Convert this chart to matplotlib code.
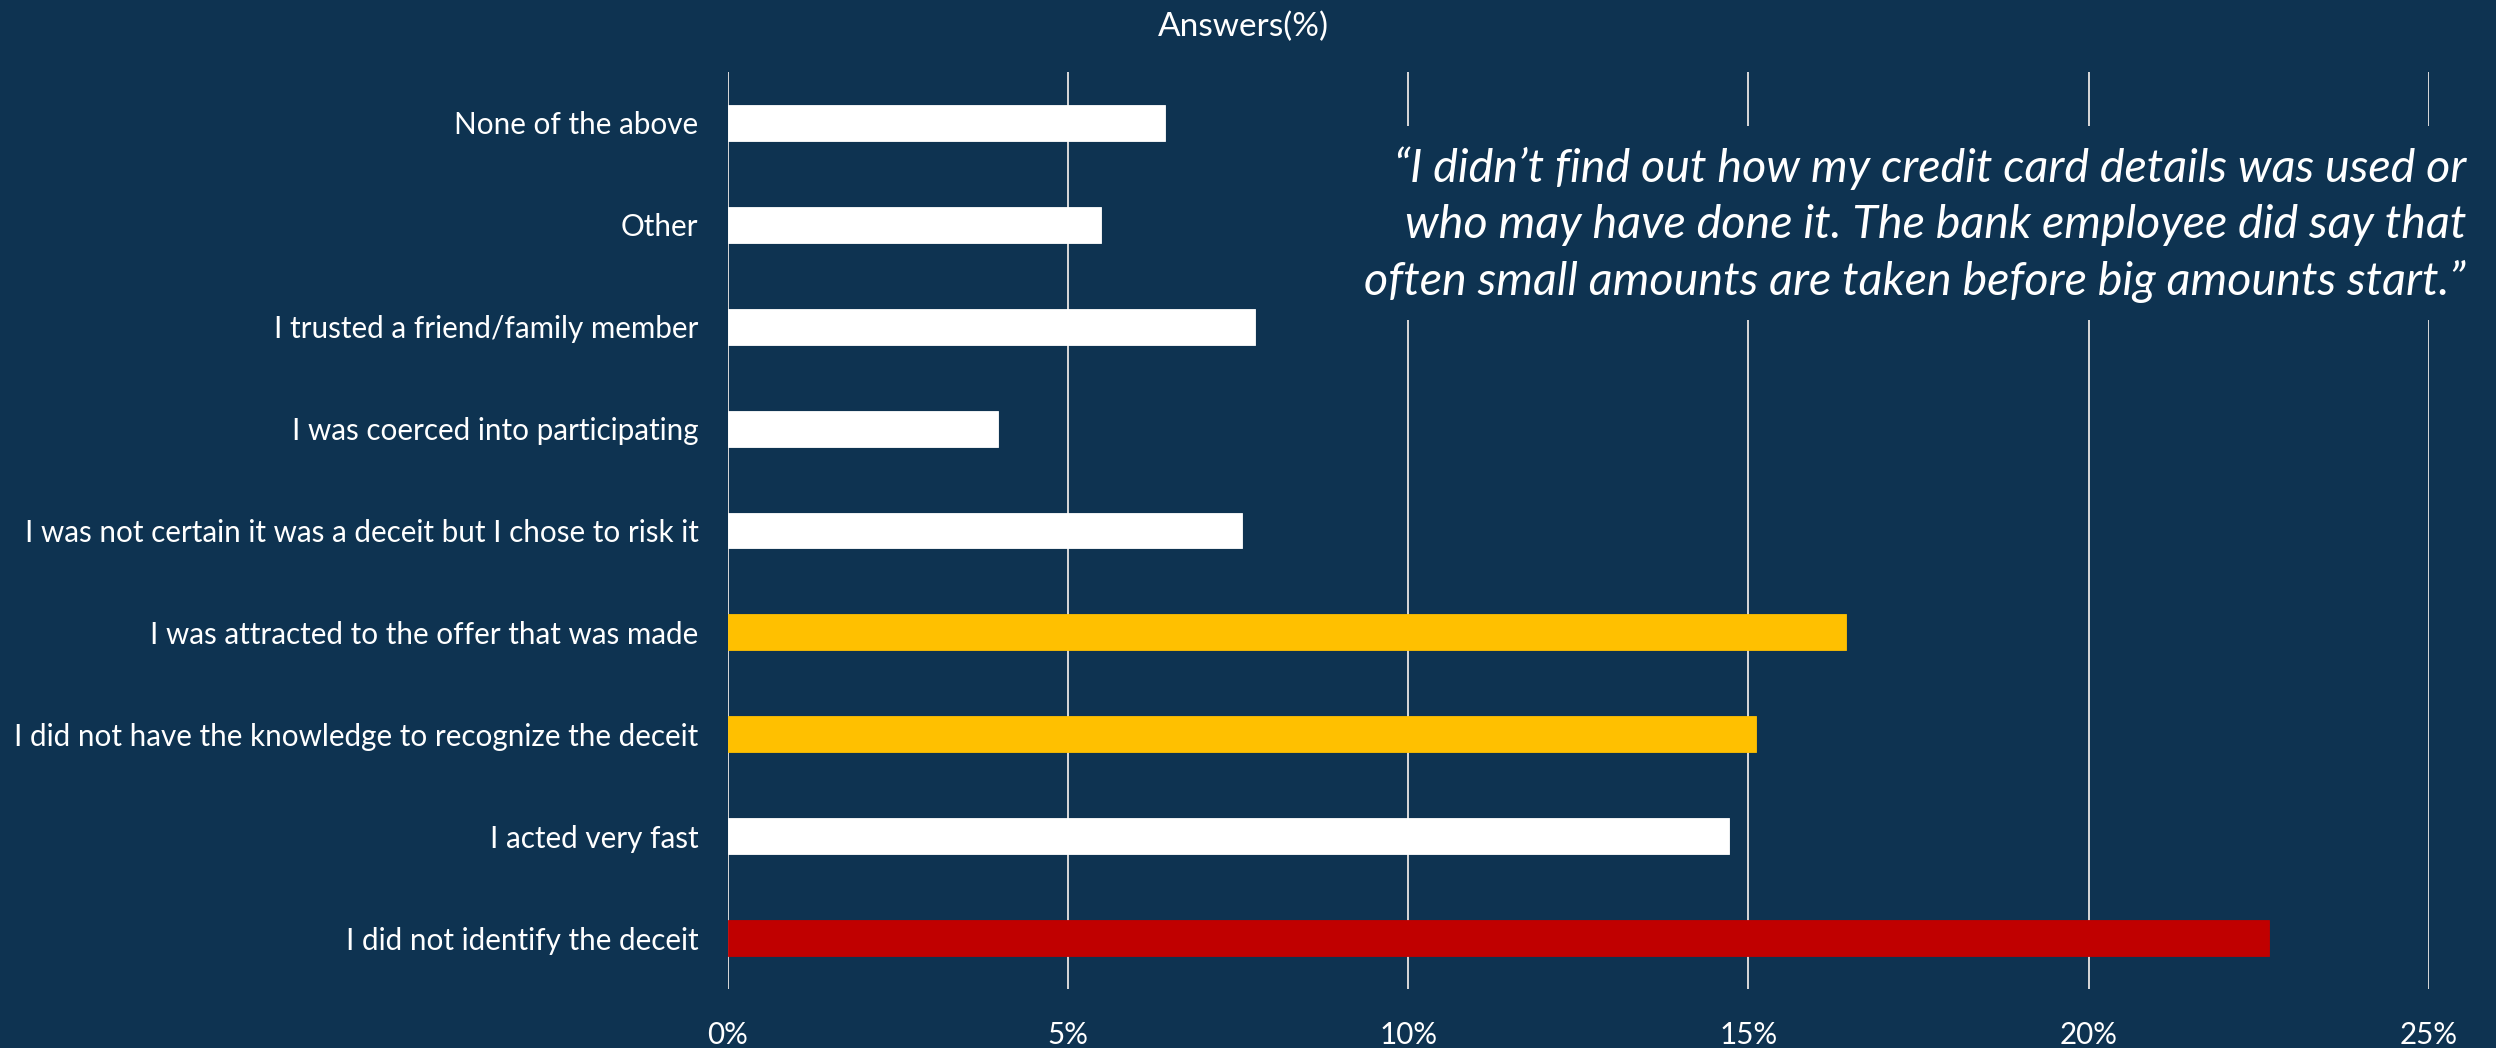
import matplotlib
matplotlib.use("Agg")
import matplotlib.pyplot as plt
from matplotlib.patches import Rectangle
from matplotlib.ticker import FuncFormatter

# Survey answers, listed bottom to top as they appear on the chart
categories = [
    "I did not identify the deceit",
    "I acted very fast",
    "I did not have the knowledge to recognize the deceit",
    "I was attracted to the offer that was made",
    "I was not certain it was a deceit but I chose to risk it",
    "I was coerced into participating",
    "I trusted a friend/family member",
    "Other",
    "None of the above",
]
answers_pct = [22.65, 14.72, 15.11, 16.43, 7.56, 3.97, 7.75, 5.48, 6.43]
bar_colors = ["#C00000", "#FFFFFF", "#FFC000", "#FFC000", "#FFFFFF",
              "#FFFFFF", "#FFFFFF", "#FFFFFF", "#FFFFFF"]
x_ticks = [0, 5, 10, 15, 20, 25]

title_text = "Answers(%)"
quote_lines = [
    "\u201cI didn\u2019t find out how my credit card details was used or",
    "who may have done it. The bank employee did say that",
    "often small amounts are taken before big amounts start.\u201d",
]

BG = "#0E3351"
FONT = ["Lato", "DejaVu Sans"]

W, H = 2496, 1048
fig = plt.figure(figsize=(W / 100, H / 100), dpi=100, facecolor=BG)
ax = fig.add_axes([727.7 / W, 59 / H, (2429 - 727.7) / W, (989 - 72) / H])
ax.set_facecolor(BG)
ax.set_zorder(0)

y = list(range(len(categories)))
ax.barh(y, answers_pct, height=0.353, color=bar_colors,
        edgecolor=bar_colors, linewidth=0.6, zorder=3)

ax.set_xlim(0, 25)
ax.set_ylim(-0.5, len(categories) - 0.5)
ax.set_xticks(x_ticks)
ax.xaxis.set_major_formatter(FuncFormatter(lambda v, _: f"{v:.0f}%"))
ax.grid(axis="x", color="#D9D9D9", linewidth=1.4, zorder=0)
ax.set_axisbelow(True)

ax.set_yticks(y)
ax.set_yticklabels(categories)
for side in ("top", "right", "bottom", "left"):
    ax.spines[side].set_visible(False)
ax.tick_params(axis="both", length=0, colors="white")
ax.tick_params(axis="y", pad=21)
ax.tick_params(axis="x", pad=23)
for lbl in ax.get_yticklabels() + ax.get_xticklabels():
    lbl.set_family(FONT)
    lbl.set_fontsize(21.3)
    lbl.set_color("white")

fig.text(1243 / W, 1 - 27 / H, title_text, ha="center", va="center",
         color="white", fontsize=24, family=FONT)

# Pull quote sits on an opaque panel that hides the gridlines behind it
panel = Rectangle((1330 / W, 1 - 320 / H), (W - 1330) / W, (320 - 126) / H,
                  transform=fig.transFigure, facecolor=BG, edgecolor="none",
                  zorder=5)
fig.add_artist(panel)

quote_baselines = [182, 238, 295]
for line, base in zip(quote_lines, quote_baselines):
    fig.text(2466 / W, 1 - base / H, line, ha="right", va="baseline",
             color="white", fontsize=33.6, style="italic", family=FONT,
             zorder=6)

fig.savefig("out.png", dpi=100, facecolor=BG)
